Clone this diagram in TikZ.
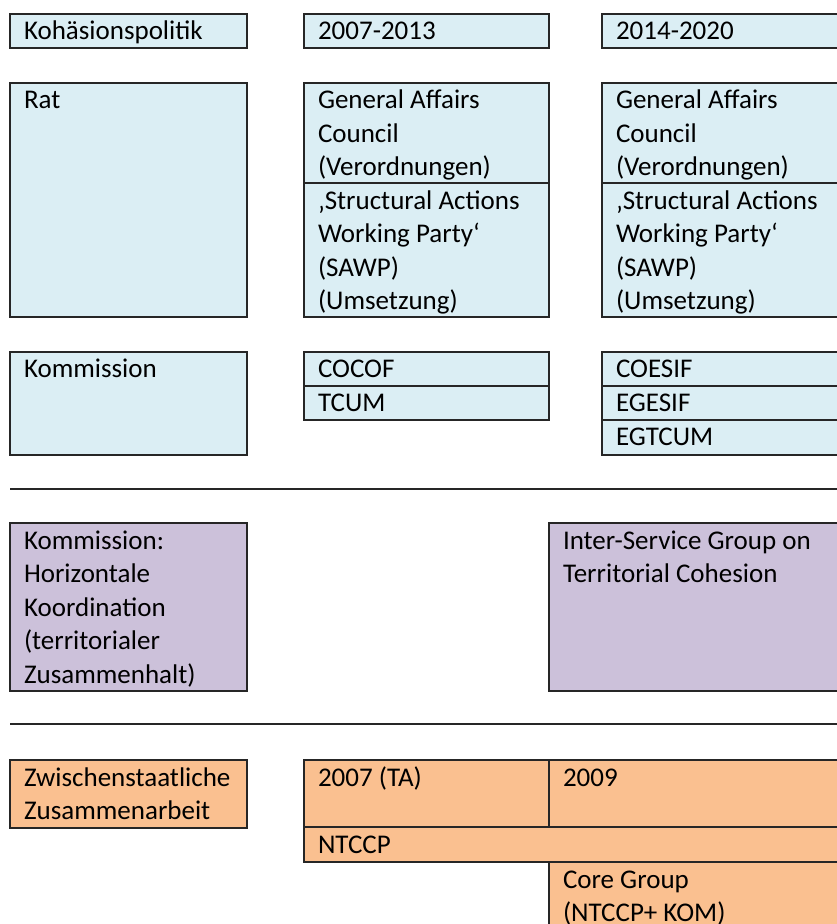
\documentclass[tikz,border=0pt]{standalone}
\usepackage{fontspec}
\setmainfont{Carlito}
\definecolor{cblue}{HTML}{DBEEF4}
\definecolor{cpurple}{HTML}{CCC1DA}
\definecolor{corange}{HTML}{FAC090}
\definecolor{cline}{HTML}{262626}
\tikzset{
  cell/.style={draw=cline, line width=1.3pt, inner sep=0pt, outer sep=0pt, anchor=north west},
  bluebox/.style={cell, fill=cblue},
  purplebox/.style={cell, fill=cpurple},
  orangebox/.style={cell, fill=corange},
  txt/.style={anchor=base west, inner sep=0pt, outer sep=0pt, font=\fontsize{27}{33.5}\selectfont},
  sepline/.style={draw=cline, line width=1.3pt}
}
\begin{document}
\begin{tikzpicture}[x=1pt,y=-1pt]
\useasboundingbox (0,0) rectangle (837,924);
\clip (0,0) rectangle (837,924);
% --- Kohaesionspolitik block (blue) ---
\node[bluebox, minimum width=237pt, minimum height=34pt] (kp) at (10,14) {};
\node[bluebox, minimum width=245pt, minimum height=34pt] (p1) at (304,14) {};
\node[bluebox, minimum width=245pt, minimum height=34pt] (p2) at (602,14) {};
\node[txt] (tkp) at (24,39.5) {\parbox[t]{220pt}{\raggedright Kohäsionspolitik}};
\node[txt] (tp1) at (318,39.5) {\parbox[t]{225pt}{\raggedright 2007-2013}};
\node[txt] (tp2) at (616,39.5) {\parbox[t]{225pt}{\raggedright 2014-2020}};

\node[bluebox, minimum width=237pt, minimum height=234pt] (rat) at (10,83) {};
\node[bluebox, minimum width=245pt, minimum height=100pt] (gac1) at (304,83) {};
\node[bluebox, minimum width=245pt, minimum height=134pt] (sawp1) at (304,183) {};
\node[bluebox, minimum width=245pt, minimum height=100pt] (gac2) at (602,83) {};
\node[bluebox, minimum width=245pt, minimum height=134pt] (sawp2) at (602,183) {};
\node[txt] (trat) at (24,108.5) {\parbox[t]{220pt}{\raggedright Rat}};
\node[txt] (tgac1) at (318,108.5) {\parbox[t]{228pt}{\raggedright General Affairs\\Council\\(Verordnungen)}};
\node[txt] (tsawp1) at (318,209) {\parbox[t]{228pt}{\raggedright ‚Structural Actions\\Working Party‘\\(SAWP)\\(Umsetzung)}};
\node[txt] (tgac2) at (616,108.5) {\parbox[t]{228pt}{\raggedright General Affairs\\Council\\(Verordnungen)}};
\node[txt] (tsawp2) at (616,209) {\parbox[t]{228pt}{\raggedright ‚Structural Actions\\Working Party‘\\(SAWP)\\(Umsetzung)}};

\node[bluebox, minimum width=237pt, minimum height=103pt] (kom) at (10,352) {};
\node[bluebox, minimum width=245pt, minimum height=34pt] (cocof) at (304,352) {};
\node[bluebox, minimum width=245pt, minimum height=34pt] (tcum) at (304,386) {};
\node[bluebox, minimum width=245pt, minimum height=34pt] (coesif) at (602,352) {};
\node[bluebox, minimum width=245pt, minimum height=34pt] (egesif) at (602,386) {};
\node[bluebox, minimum width=245pt, minimum height=35pt] (egtcum) at (602,420) {};
\node[txt] (tkom) at (24,377.5) {\parbox[t]{220pt}{\raggedright Kommission}};
\node[txt] (tcocof) at (318,377.5) {\parbox[t]{225pt}{\raggedright COCOF}};
\node[txt] (ttcum) at (318,411.5) {\parbox[t]{225pt}{\raggedright TCUM}};
\node[txt] (tcoesif) at (616,377.5) {\parbox[t]{225pt}{\raggedright COESIF}};
\node[txt] (tegesif) at (616,411.5) {\parbox[t]{225pt}{\raggedright EGESIF}};
\node[txt] (tegtcum) at (616,445.5) {\parbox[t]{225pt}{\raggedright EGTCUM}};

% --- separator 1 ---
\coordinate (s1a) at (10,489);
\coordinate (s1b) at (845,489);
\draw[sepline] (s1a) -- (s1b);

% --- purple block ---
\node[purplebox, minimum width=237pt, minimum height=168pt] (kh) at (10,523) {};
\node[purplebox, minimum width=300pt, minimum height=168pt] (isg) at (549,523) {};
\node[txt] (tkh) at (24,549) {\parbox[t]{220pt}{\raggedright Kommission:\\Horizontale\\Koordination\\(territorialer\\Zusammenhalt)}};
\node[txt] (tisg) at (563,549) {\parbox[t]{270pt}{\raggedright Inter-Service Group on\\Territorial Cohesion}};

% --- separator 2 ---
\coordinate (s2a) at (10,724);
\coordinate (s2b) at (845,724);
\draw[sepline] (s2a) -- (s2b);

% --- orange block ---
\node[orangebox, minimum width=237pt, minimum height=68pt] (zw) at (10,760) {};
\node[orangebox, minimum width=245pt, minimum height=67pt] (ta) at (304,760) {};
\node[orangebox, minimum width=300pt, minimum height=67pt] (y09) at (549,760) {};
\node[orangebox, minimum width=545pt, minimum height=35pt] (ntccp) at (304,827) {};
\node[orangebox, minimum width=300pt, minimum height=90pt] (core) at (549,862) {};
\node[txt] (tzw) at (24,786) {\parbox[t]{220pt}{\raggedright Zwischenstaatliche\\Zusammenarbeit}};
\node[txt] (tta) at (318,786) {\parbox[t]{225pt}{\raggedright 2007 (TA)}};
\node[txt] (ty09) at (563,786) {\parbox[t]{270pt}{\raggedright 2009}};
\node[txt] (tntccp) at (318,853) {\parbox[t]{500pt}{\raggedright NTCCP}};
\node[txt] (tcore) at (563,888) {\parbox[t]{270pt}{\raggedright Core Group\\(NTCCP+ KOM)}};
\end{tikzpicture}
\end{document}
